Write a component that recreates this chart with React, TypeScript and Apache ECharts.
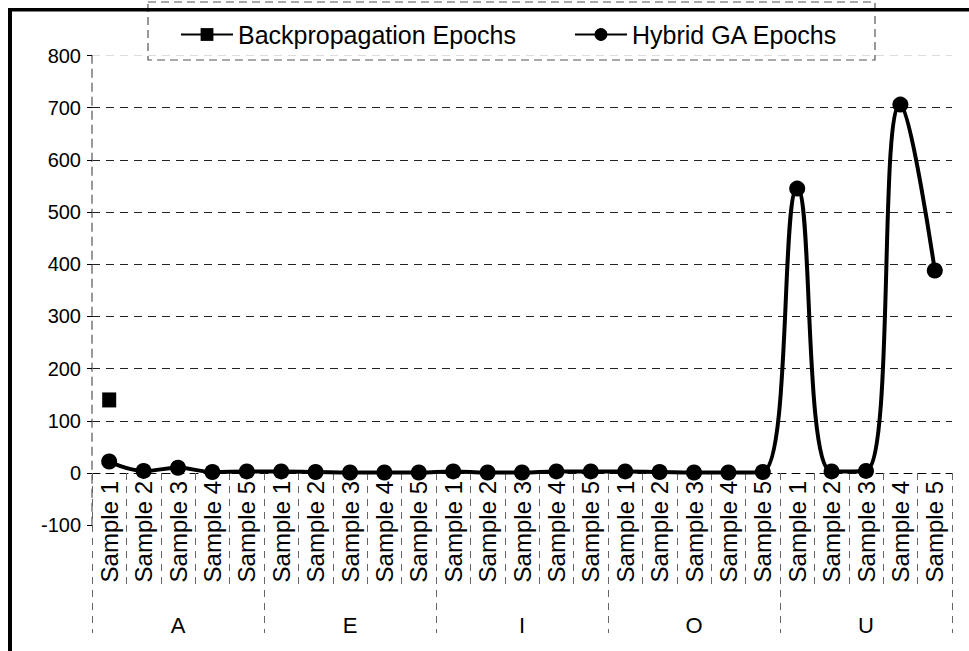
import React, { useEffect, useRef } from "react";
import * as echarts from "echarts";

const groups = ["A", "E", "I", "O", "U"];
const sampleNames = ["Sample 1", "Sample 2", "Sample 3", "Sample 4", "Sample 5"];
const categories = groups.flatMap(() => sampleNames);
const hybridGA = [22, 4, 10, 2, 3, 3, 2, 1, 1, 1, 3, 1, 1, 3, 3, 3, 2, 1, 1, 2, 545, 3, 4, 706, 388];
const backprop: (number | null)[] = [140, null, null, null, null, null, null, null, null, null, null, null, null, null, null, null, null, null, null, null, null, null, null, null, null];
const yTicks = { min: -100, max: 800, interval: 100 };

const FONT = "'Liberation Sans', Arial, sans-serif";

export default function App() {
  const ref = useRef<HTMLDivElement>(null);
  useEffect(() => {
    if (!ref.current) return;
    const chart = echarts.init(ref.current, undefined, { renderer: "svg" });
    const gridTop = 55.5;
    const gridBottomPx = 525.2;
    const zeroPx = 473;
    const splitColors = ["transparent", "#222", "#222", "#222", "#222", "#222", "#222", "#222", "#222", "#dddddd"];
    chart.setOption({
      animation: false,
      backgroundColor: "#ffffff",
      textStyle: { fontFamily: FONT },
      grid: { left: 92, right: 17, top: gridTop, bottom: 651 - gridBottomPx, containLabel: false },
      legend: {
        left: 180,
        top: 22,
        padding: 0,
        itemWidth: 52,
        itemHeight: 16,
        itemGap: 58,
        textStyle: { fontSize: 25, color: "#000", fontFamily: FONT },
        data: ["Backpropagation Epochs", "Hybrid GA Epochs"],
      },
      xAxis: [
        {
          type: "category",
          data: categories,
          boundaryGap: true,
          position: "bottom",
          offset: -(gridBottomPx - zeroPx),
          axisLine: { show: true, onZero: false, lineStyle: { color: "#000", type: [8, 6], width: 1 } },
          axisTick: { show: true, interval: 0, length: 115, lineStyle: { color: "#666", type: [7, 6], width: 1 } },
          axisLabel: { interval: 0, rotate: 90, margin: 8, fontSize: 24, color: "#000", fontFamily: FONT, hideOverlap: false },
          splitLine: { show: false },
        },
        {
          type: "category",
          data: groups,
          position: "bottom",
          boundaryGap: true,
          offset: -(gridBottomPx - zeroPx),
          axisLine: { show: false, onZero: false },
          axisTick: { show: true, interval: 0, length: 160, lineStyle: { color: "#666", type: [7, 6], width: 1 } },
          axisLabel: { interval: 0, margin: 141, fontSize: 22, color: "#000", fontFamily: FONT },
          splitLine: { show: false },
        },
      ],
      yAxis: {
        type: "value",
        min: yTicks.min,
        max: yTicks.max,
        interval: yTicks.interval,
        axisLine: { show: true, lineStyle: { color: "#777", type: [8, 6], width: 1.5 } },
        axisTick: { show: true, length: 5, lineStyle: { color: "#000", width: 1 } },
        axisLabel: { margin: 11, fontSize: 20, color: "#000", fontFamily: FONT },
        splitLine: { show: true, lineStyle: { color: splitColors, type: [8, 6], width: 1 } },
      },
      series: [
        {
          name: "Backpropagation Epochs",
          type: "line",
          xAxisIndex: 0,
          data: backprop,
          symbol: "rect",
          symbolSize: [14, 15],
          connectNulls: false,
          lineStyle: { color: "#000", width: 4 },
          itemStyle: { color: "#000" },
        },
        {
          name: "Hybrid GA Epochs",
          type: "line",
          xAxisIndex: 0,
          data: hybridGA,
          smooth: 0.45,
          symbol: "circle",
          symbolSize: 16,
          lineStyle: { color: "#000", width: 4 },
          itemStyle: { color: "#000" },
        },
      ],
      graphic: [
        { type: "rect", shape: { x: 148, y: 2, width: 727, height: 58 }, style: { fill: "none", stroke: "#555", lineWidth: 1.2, lineDash: [8, 5] }, z: 1 },
        { type: "rect", shape: { x: 8, y: 8, width: 961, height: 3.5 }, style: { fill: "#000" }, z: 10 },
        { type: "rect", shape: { x: 8, y: 8, width: 4, height: 643 }, style: { fill: "#000" }, z: 10 },
      ],
    });
    return () => chart.dispose();
  }, []);
  return <div ref={ref} style={{ position: "fixed", left: 0, top: 0, width: 969, height: 651, background: "#fff" }} />;
}
